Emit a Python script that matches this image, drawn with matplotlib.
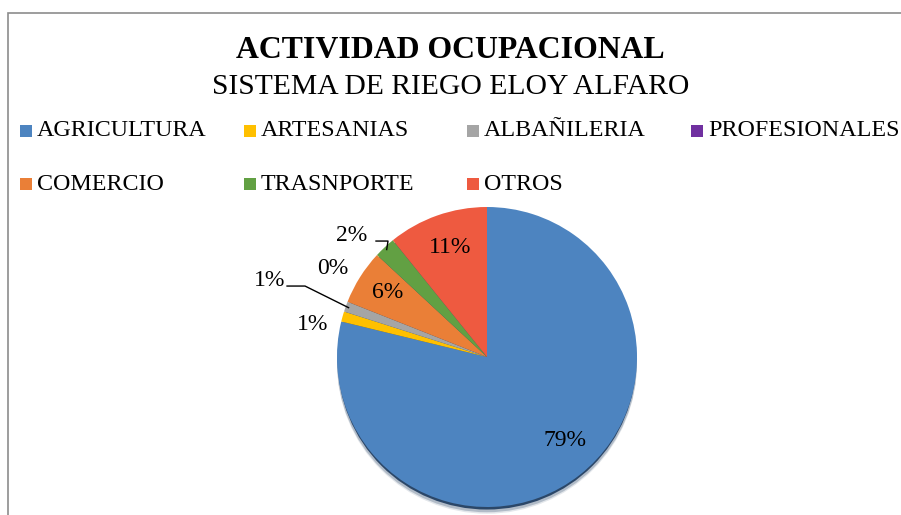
import numpy as np
import matplotlib.pyplot as plt
from matplotlib.patches import Rectangle, Circle

plt.rcParams['font.family'] = ['Liberation Serif', 'DejaVu Serif']

categories = ['AGRICULTURA', 'ARTESANIAS', 'ALBAÑILERIA', 'PROFESIONALES',
              'COMERCIO', 'TRASNPORTE', 'OTROS']
values = [78.8, 1.1, 1.1, 0.0, 5.9, 2.3, 10.8]
pct_labels = ['79%', '1%', '1%', '0%', '6%', '2%', '11%']
colors = ['#4D84C0', '#FFC000', '#A5A5A5', '#7030A0', '#EA7F37', '#62A043', '#EE5A40']

W, H = 901, 515
fig = plt.figure(figsize=(W / 100, H / 100), dpi=100)

# chart frame (only top and left edges visible in the crop)
fig.patches.append(Rectangle((7.5 / W, -0.1), 2.0, (H - 12.5) / H + 0.1,
                             transform=fig.transFigure, fill=False,
                             edgecolor='#8c8c8c', linewidth=1.2))

fig.text(0.5, 1 - 50 / H, 'ACTIVIDAD OCUPACIONAL', ha='center', va='center',
         fontsize=22.9, fontweight='bold')
fig.text(0.5, 1 - 87 / H, 'SISTEMA DE RIEGO ELOY ALFARO', ha='center', va='center',
         fontsize=21.3)

# legend, filled row by row
leg_x = [20, 244, 467, 691]
leg_y = [131, 184]
for i, (name, col) in enumerate(zip(categories, colors)):
    r, c = divmod(i, 4)
    x0, y0 = leg_x[c], leg_y[r]
    fig.patches.append(Rectangle((x0 / W, 1 - (y0 + 6) / H), 12 / W, 12 / H,
                                 transform=fig.transFigure, facecolor=col,
                                 edgecolor='none'))
    fig.text((x0 + 17) / W, 1 - y0 / H, name, ha='left', va='center', fontsize=17.3)

# pie axes: unit radius = R px, centre at (cx, cy) px
cx, cy, R = 487, 357, 150
ax = fig.add_axes([(cx - 2 * R) / W, (H - cy - 2 * R) / H, 4 * R / W, 4 * R / H])

# soft shadow under the pie
for off, rad, a in [(-0.045, 1.0, 0.12), (-0.035, 1.0, 0.25), (-0.022, 0.995, 0.9)]:
    ax.add_patch(Circle((0.0, off), rad, color='#1d3a5e', alpha=a, zorder=0,
                        linewidth=0))

wedges, _ = ax.pie(values, colors=colors, startangle=90, counterclock=False,
                   radius=1.0, wedgeprops=dict(linewidth=0))
ax.set_xlim(-2, 2)
ax.set_ylim(-2, 2)
ax.axis('off')

label_pos = [(0.52, -0.555), (-1.16, 0.215), (-1.447, 0.513), (-1.027, 0.593),
             (-0.66, 0.427), (-0.90, 0.813), (-0.247, 0.733)]
for txt, (x, y) in zip(pct_labels, label_pos):
    ax.text(x, y, txt, ha='center', va='center', fontsize=17)

# leader lines for the small outside labels
for idx, start in [(2, (-1.333, 0.473)), (5, (-0.74, 0.773))]:
    w = wedges[idx]
    mid = np.deg2rad((w.theta1 + w.theta2) / 2)
    ex, ey = 0.98 * np.cos(mid), 0.98 * np.sin(mid)
    kx = start[0] + (0.12 if idx == 2 else 0.08)
    ax.plot([start[0], kx, ex], [start[1], start[1], ey], color='black', lw=1)

fig.savefig('out.png', dpi=100)
